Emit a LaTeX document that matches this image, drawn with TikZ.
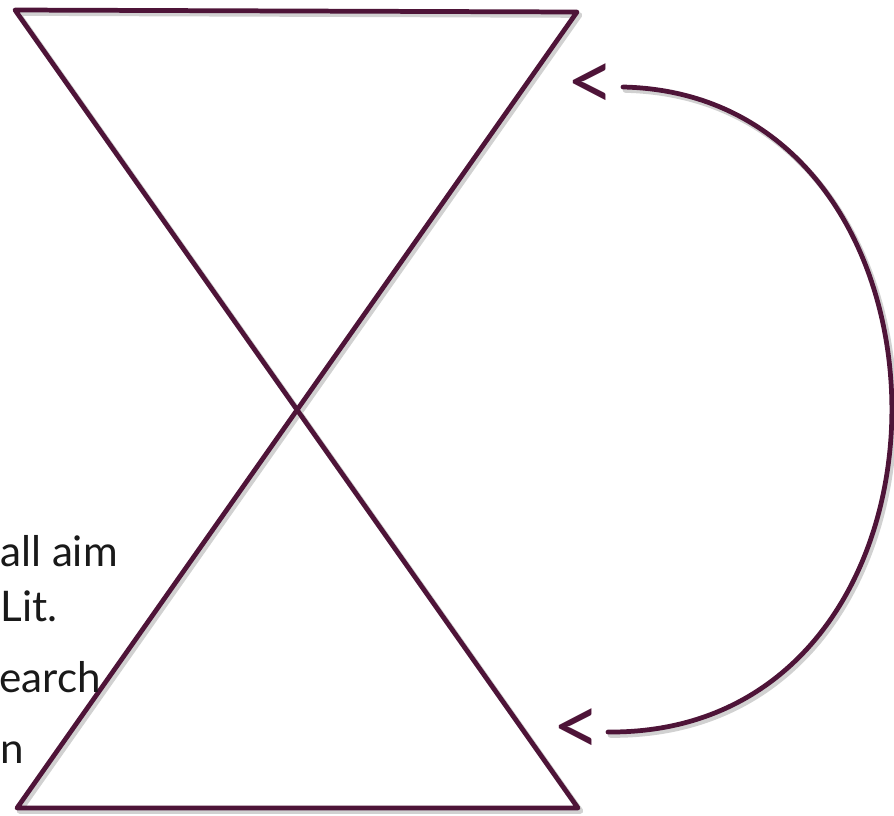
\documentclass[tikz,border=0pt]{standalone}
\usepackage{fontspec}
\setmainfont{Lato}
\usetikzlibrary{positioning}
\definecolor{maroon}{RGB}{78,20,56}
\tikzset{
  glass/.style={draw=maroon, line width=2.7pt, line join=round, line cap=round},
  glassshadow/.style={draw=black!18, line width=3.2pt, line join=round, line cap=round,
    transform canvas={xshift=0.05cm, yshift=-0.06cm}},
  sidetext/.style={inner sep=0pt, anchor=base west, text=black!90, font=\fontsize{24}{29}\selectfont},
  lessmark/.style={inner sep=0pt, text=maroon, font=\fontsize{48}{52}\selectfont}
}
\begin{document}
\begin{tikzpicture}[x=0.02cm,y=-0.02cm]
\useasboundingbox (0,0) rectangle (894,816);
\clip (0,0) rectangle (894,816);

% corners of the hourglass
\coordinate (tl) at (15,10);
\coordinate (tr) at (577,12);
\coordinate (bl) at (17,808);
\coordinate (br) at (578,808);

% ends of the loop on the right
\coordinate (ctop) at (623,87);
\coordinate (cbot) at (608,732);

% shadows first
\draw[glassshadow] (tl) -- (tr) -- (bl) -- (br) -- cycle;
\draw[glassshadow] (ctop) .. controls (983,95) and (985,735) .. (cbot);

% hourglass: top bar, diagonal, bottom bar, diagonal
\draw[glass] (tl) -- (tr) -- (bl) -- (br) -- cycle;

% loop back from bottom to top
\draw[glass] (ctop) .. controls (983,95) and (985,735) .. (cbot);
\node[lessmark, left=0.14cm of ctop] (ltop) {<};
\node[lessmark, left=0.12cm of cbot] (lbot) {<};

% text at the left edge
\node[sidetext] (aim) at (0,566) {all aim};
\node[sidetext] (lit) at (0,621) {Lit.};
\node[sidetext] (search) at (-1,692) {earch};
\node[sidetext] (plan) at (0,763) {n};
\end{tikzpicture}
\end{document}
